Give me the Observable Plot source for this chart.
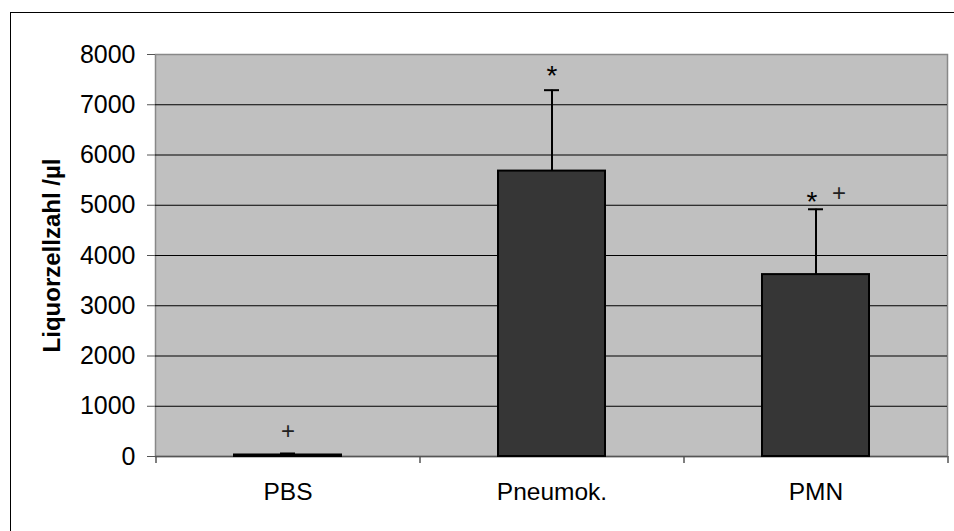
<!DOCTYPE html>
<html><head><meta charset="utf-8">
<script src="https://cdn.jsdelivr.net/npm/d3@7"></script>
<script src="https://cdn.jsdelivr.net/npm/@observablehq/plot@0.6"></script>
<style>
body{margin:0;background:#fff;}
#chart{position:relative;width:954px;height:531px;overflow:hidden;}
#border{position:absolute;left:10px;top:12px;width:1000px;height:1000px;border:1.5px solid #000;box-sizing:border-box;pointer-events:none;}
#chart svg{position:absolute;left:0;top:0;}
</style></head><body>
<div id="chart"><div id="border"></div></div>
<script>
const categories = ["PBS", "Pneumok.", "PMN"];
const means = [30, 5680, 3620];
const sds = [30, 1610, 1300];
const yTicks = [0, 1000, 2000, 3000, 4000, 5000, 6000, 7000, 8000];
const yTitle = "Liquorzellzahl /µl";
const starLabel = "*";
const plusLabel = "+";

const data = categories.map((c, i) => ({cat: c, mean: means[i], top: means[i] + sds[i]}));
const byCat = c => data.filter(d => d.cat === c);

const font = "'Liberation Sans', Arial, sans-serif";

const chart = Plot.plot({
  width: 954,
  height: 531,
  marginLeft: 155,
  marginRight: 7,
  marginTop: 54,
  marginBottom: 75,
  style: {fontFamily: font, fontSize: "25px", background: "transparent", color: "#000"},
  x: {domain: categories, paddingInner: 0.595, paddingOuter: 0.2975, label: null},
  y: {domain: [0, 8000], label: null},
  marks: [
    Plot.frame({fill: "#c0c0c0", stroke: "#888888", strokeWidth: 1.5}),
    Plot.gridY(yTicks.slice(1, -1), {stroke: "#000", strokeOpacity: 1, strokeWidth: 1}),
    Plot.ruleY([0], {stroke: "#555", strokeWidth: 1.5}),
    Plot.axisY({ticks: yTicks, tickSize: 8, tickPadding: 12, tickFormat: d => String(d), stroke: "#555", line: true, fontSize: 25}),
    Plot.axisX({tickSize: 0, tickPadding: 26, fontSize: 24.5}),
    Plot.ruleX(categories, {x: d => d, y1: 0, y2: -140, dx: -132, stroke: "#555", strokeWidth: 1.5}),
    Plot.ruleX(categories.slice(-1), {x: d => d, y1: 0, y2: -140, dx: 132, stroke: "#555", strokeWidth: 1.5}),
    Plot.ruleX(data, {x: "cat", y1: "mean", y2: "top", stroke: "#000", strokeWidth: 2}),
    Plot.tickY(data, {x: "cat", y: "top", stroke: "#000", strokeWidth: 2, inset: 46}),
    Plot.barY(data, {x: "cat", y: "mean", fill: "#363636", stroke: "#000", strokeWidth: 2}),
    Plot.text(byCat("Pneumok."), {x: "cat", y: "top", text: () => starLabel, dy: -14.5, fontSize: 28}),
    Plot.text(byCat("PMN"), {x: "cat", y: "top", text: () => starLabel, dx: -4, dy: -7, fontSize: 28}),
    Plot.text(byCat("PMN"), {x: "cat", y: "top", text: () => plusLabel, dx: 23, dy: -16, fontSize: 24, fill: "#222"}),
    Plot.text(byCat("PBS"), {x: "cat", y: "top", text: () => plusLabel, dy: -22, fontSize: 24, fill: "#222"}),
    Plot.text([yTitle], {frameAnchor: "left", textAnchor: "middle", text: d => d, rotate: -90, dx: -103, fontSize: 24, fontWeight: "bold"})
  ]
});
document.getElementById("chart").appendChild(chart);
</script>
</body></html>
